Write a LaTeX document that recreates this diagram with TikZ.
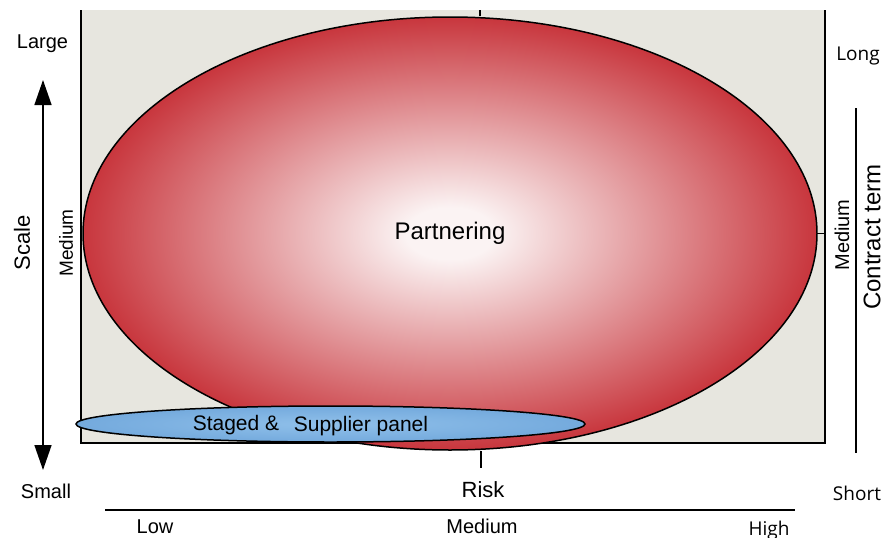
\documentclass[tikz,border=0pt]{standalone}
\usepackage{fontspec}
\setmainfont{Liberation Sans}
\newfontfamily\altfont{Open Sans}
\usetikzlibrary{arrows.meta,shapes.geometric}
\definecolor{boxbg}{HTML}{E7E6DF}
\definecolor{redout}{HTML}{C8363D}
\definecolor{redin}{HTML}{FBF3F3}
\definecolor{bluein}{HTML}{90C0EA}
\definecolor{blueout}{HTML}{74AADD}
\pgfdeclareradialshading{redglow}{\pgfpoint{0bp}{0bp}}{color(0bp)=(redin); color(3bp)=(redin); color(25bp)=(redout); color(50bp)=(redout)}
\pgfdeclareradialshading{blueglow}{\pgfpoint{0bp}{0bp}}{color(0bp)=(bluein); color(25bp)=(blueout); color(50bp)=(blueout)}
\tikzset{
  lbl/.style={inner sep=0pt, font=\fontsize{20}{20}\selectfont},
  altlbl/.style={inner sep=0pt, font=\altfont\fontsize{19}{19}\selectfont},
  axisline/.style={line width=1.5pt, black},
  tickline/.style={line width=1.2pt, black},
}
\begin{document}
\begin{tikzpicture}[x=1pt,y=-1pt]
\useasboundingbox (0,0) rectangle (886,538);
% background box
\fill[boxbg] (81,10) rectangle (825,443);
\draw[axisline] (81,10) coordinate (boxTL) -- (81,443) coordinate (boxBL) -- (825,443) coordinate (boxBR) -- (825,10) coordinate (boxTR);
% Partnering ellipse
\node[ellipse, draw=black, line width=1.5pt, minimum width=734pt, minimum height=433pt, inner sep=0pt, shading=redglow] (partner) at (450,233.5) {};
\node[lbl, anchor=base, font=\fontsize{24}{24}\selectfont] (partnertxt) at (450,239) {Partnering};
% ticks
\coordinate (toptick) at (480,10);
\draw[tickline] (toptick) -- (partner.north -| toptick);
\coordinate (bottick) at (481,468);
\draw[tickline] (partner.south -| bottick) -- (bottick);
\draw[tickline] (partner.east) -- (partner.east -| boxBR);
% Supplier panel ellipse
\node[ellipse, draw=black, line width=1.5pt, minimum width=509pt, minimum height=36pt, inner sep=0pt, shading=blueglow] (panel) at (330.5,424) {};
\node[lbl, anchor=base, font=\fontsize{21}{21}\selectfont] (staged) at (236,430) {Staged \&};
\node[lbl, anchor=base, font=\fontsize{21}{21}\selectfont] (supplier) at (361,431) {Supplier panel};
% left scale axis
\node[lbl, anchor=base] (large) at (42.5,48) {Large};
\node[lbl, anchor=base] (small) at (46,498) {Small};
\coordinate (arrtop) at (43,80);
\coordinate (arrbot) at (43,470);
\draw[line width=1.5pt, {Triangle[length=25pt,width=17pt]}-{Triangle[length=25pt,width=17pt]}] (arrtop) -- (arrbot);
\node[lbl, rotate=90, font=\fontsize{22}{22}\selectfont] (scale) at (22,243) {Scale};
\node[lbl, rotate=90, font=\fontsize{19}{19}\selectfont] (medleft) at (66,243) {Medium};
% bottom risk axis
\node[lbl, anchor=base, font=\fontsize{22}{22}\selectfont] (risk) at (483,497) {Risk};
\coordinate (riskL) at (105,510);
\coordinate (riskR) at (795,510);
\draw[axisline] (riskL) -- (riskR);
\node[lbl, anchor=base] (low) at (155,533) {Low};
\node[lbl, anchor=base] (medbot) at (482,533) {Medium};
\node[altlbl, anchor=base] (high) at (769,535) {High};
% right contract term axis
\node[altlbl, anchor=base] (long) at (858,60) {Long};
\node[altlbl, anchor=base] (short) at (857,500) {Short};
\coordinate (ctop) at (856,108);
\coordinate (cbot) at (856,453);
\draw[axisline] (ctop) -- (cbot);
\node[lbl, rotate=90] (medright) at (842,235) {Medium};
\node[lbl, rotate=90, font=\fontsize{24}{24}\selectfont] (contract) at (872,237) {Contract term};
\end{tikzpicture}
\end{document}
